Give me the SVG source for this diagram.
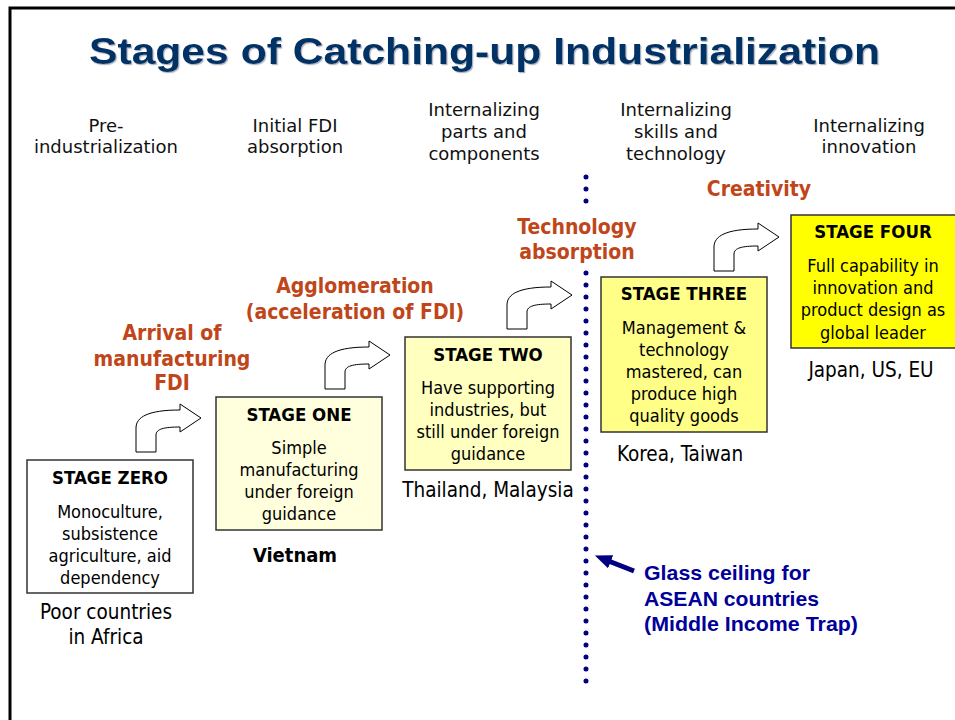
<svg xmlns="http://www.w3.org/2000/svg" xmlns:xlink="http://www.w3.org/1999/xlink" width="955" height="720" viewBox="0 0 955 720">
<style>
.title{font-family:"Liberation Sans",Arial,sans-serif;font-weight:bold;font-size:37px;fill:#003366;}
.hdr{font-family:"DejaVu Sans",Verdana,sans-serif;font-size:18px;fill:#111;text-anchor:middle;}
.box{stroke:#333;stroke-width:1.5;}
.bt{font-family:"DejaVu Sans Condensed","DejaVu Sans",sans-serif;font-stretch:condensed;font-weight:bold;font-size:18.5px;fill:#000;text-anchor:middle;}
.bd{font-family:"DejaVu Sans Condensed","DejaVu Sans",sans-serif;font-stretch:condensed;font-size:18px;fill:#000;text-anchor:middle;}
.ctry{font-family:"DejaVu Sans Condensed","DejaVu Sans",sans-serif;font-stretch:condensed;font-size:20.5px;fill:#000;text-anchor:middle;}
.ctryb{font-family:"DejaVu Sans Condensed","DejaVu Sans",sans-serif;font-stretch:condensed;font-weight:bold;font-size:20px;fill:#000;text-anchor:middle;}
.org{font-family:"DejaVu Sans Condensed","DejaVu Sans",sans-serif;font-stretch:condensed;font-weight:bold;font-size:21px;fill:#C0461A;text-anchor:middle;}
.blue{font-family:"Liberation Sans",Arial,sans-serif;font-weight:bold;font-size:20.5px;fill:#000099;}
.bent{fill:#fff;stroke:#000;stroke-width:1;}
.dots{stroke:#000080;stroke-width:5;stroke-linecap:round;stroke-dasharray:0 12;fill:none;}
</style>
<defs>
<path id="bentArrow" d="M0,0 V-24 C0,-35 12,-42 44,-42 V-48 L65,-34 L44,-20 V-25 C28,-25 20,-23 20,-17 V0 Z"/>
<marker id="navyHead" markerUnits="userSpaceOnUse" markerWidth="17" markerHeight="14" refX="5" refY="7" orient="auto">
<path d="M0,0 L17,7 L0,14 Z" fill="#000080"/>
</marker>
<filter id="shadow" x="-5%" y="-20%" width="110%" height="150%">
<feDropShadow dx="1.2" dy="1.2" stdDeviation="0.6" flood-color="#8a96aa" flood-opacity="0.7"/>
</filter>
</defs>
<rect x="0" y="0" width="955" height="720" fill="#fff"/>
<rect x="10" y="8" width="960" height="730" fill="none" stroke="#000" stroke-width="3"/>

<g id="title">
<text class="title" x="89" y="64" textLength="791" lengthAdjust="spacingAndGlyphs" filter="url(#shadow)">Stages of Catching-up Industrialization</text>
</g>

<g id="headers">
<text class="hdr" x="106" y="132">Pre-</text>
<text class="hdr" x="106" y="153">industrialization</text>
<text class="hdr" x="295" y="132">Initial FDI</text>
<text class="hdr" x="295" y="153">absorption</text>
<text class="hdr" x="484" y="116">Internalizing</text>
<text class="hdr" x="484" y="138">parts and</text>
<text class="hdr" x="484" y="160">components</text>
<text class="hdr" x="676" y="116">Internalizing</text>
<text class="hdr" x="676" y="138">skills and</text>
<text class="hdr" x="676" y="160">technology</text>
<text class="hdr" x="869" y="132">Internalizing</text>
<text class="hdr" x="869" y="153">innovation</text>
</g>

<g id="connectors">
<use xlink:href="#bentArrow" href="#bentArrow" class="bent" x="136" y="452"/>
<use xlink:href="#bentArrow" href="#bentArrow" class="bent" x="325" y="389"/>
<use xlink:href="#bentArrow" href="#bentArrow" class="bent" x="507" y="329"/>
<use xlink:href="#bentArrow" href="#bentArrow" class="bent" x="714" y="271"/>
<line x1="634" y1="571" x2="606" y2="560" stroke="#000080" stroke-width="5" marker-end="url(#navyHead)"/>
</g>

<g id="glass-ceiling-line">
<line class="dots" x1="586" y1="177" x2="586" y2="201.5"/>
<line class="dots" x1="586" y1="273" x2="586" y2="681.5"/>
</g>

<g id="stage-zero">
<rect class="box" x="27" y="460" width="166" height="133" fill="#fff"/>
<text class="bt" x="110" y="484">STAGE ZERO</text>
<text class="bd" x="110" y="518">Monoculture,</text>
<text class="bd" x="110" y="540">subsistence</text>
<text class="bd" x="110" y="562">agriculture, aid</text>
<text class="bd" x="110" y="584">dependency</text>
<text class="ctry" x="106" y="619">Poor countries</text>
<text class="ctry" x="106" y="644">in Africa</text>
</g>

<g id="stage-one">
<rect class="box" x="216" y="397" width="166" height="133" fill="#FFFFDD"/>
<text class="bt" x="299" y="421">STAGE ONE</text>
<text class="bd" x="299" y="454">Simple</text>
<text class="bd" x="299" y="476">manufacturing</text>
<text class="bd" x="299" y="498">under foreign</text>
<text class="bd" x="299" y="520">guidance</text>
<text class="ctryb" x="295" y="562">Vietnam</text>
</g>

<g id="stage-two">
<rect class="box" x="405" y="337" width="166" height="133" fill="#FFFFC0"/>
<text class="bt" x="488" y="361">STAGE TWO</text>
<text class="bd" x="488" y="394">Have supporting</text>
<text class="bd" x="488" y="416">industries, but</text>
<text class="bd" x="488" y="438">still under foreign</text>
<text class="bd" x="488" y="460">guidance</text>
<text class="ctry" x="488" y="497">Thailand, Malaysia</text>
</g>

<g id="stage-three">
<rect class="box" x="601" y="277" width="166" height="155" fill="#FFFF88"/>
<text class="bt" x="684" y="300">STAGE THREE</text>
<text class="bd" x="684" y="334">Management &amp;</text>
<text class="bd" x="684" y="356">technology</text>
<text class="bd" x="684" y="378">mastered, can</text>
<text class="bd" x="684" y="400">produce high</text>
<text class="bd" x="684" y="422">quality goods</text>
<text class="ctry" x="680" y="461">Korea, Taiwan</text>
</g>

<g id="stage-four">
<rect class="box" x="791" y="215" width="167" height="133" fill="#FFFF00"/>
<text class="bt" x="873" y="238">STAGE FOUR</text>
<text class="bd" x="873" y="272">Full capability in</text>
<text class="bd" x="873" y="294">innovation and</text>
<text class="bd" x="873" y="316">product design as</text>
<text class="bd" x="873" y="339">global leader</text>
<text class="ctry" x="871" y="377">Japan, US, EU</text>
</g>

<g id="transition-labels">
<text class="org" x="172" y="340">Arrival of</text>
<text class="org" x="172" y="366">manufacturing</text>
<text class="org" x="172" y="390">FDI</text>
<text class="org" x="355" y="293">Agglomeration</text>
<text class="org" x="355" y="319">(acceleration of FDI)</text>
<text class="org" x="577" y="234">Technology</text>
<text class="org" x="577" y="259">absorption</text>
<text class="org" x="759" y="196">Creativity</text>
</g>

<g id="glass-ceiling-label">
<text class="blue" x="644" y="580" textLength="166" lengthAdjust="spacingAndGlyphs">Glass ceiling for</text>
<text class="blue" x="644" y="606" textLength="175" lengthAdjust="spacingAndGlyphs">ASEAN countries</text>
<text class="blue" x="644" y="631" textLength="214" lengthAdjust="spacingAndGlyphs">(Middle Income Trap)</text>
</g>
</svg>
